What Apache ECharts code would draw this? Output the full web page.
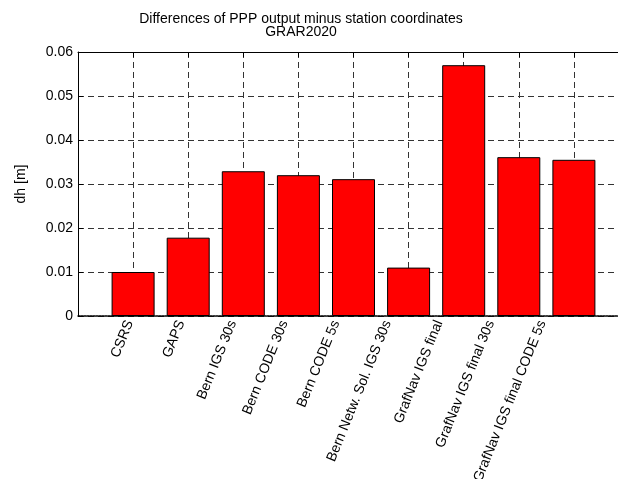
<!DOCTYPE html>
<html>
<head>
<meta charset="utf-8">
<script src="https://cdn.jsdelivr.net/npm/echarts@6/dist/echarts.min.js"></script>
<style>
html,body{margin:0;padding:0;background:#fff;}
#chart{width:618px;height:479px;}
</style>
</head>
<body>
<div id="chart"></div>
<script>
var titleLines = ['Differences of PPP output minus station coordinates', 'GRAR2020'];
var yAxisName = 'dh [m]';
var categories = ['CSRS', 'GAPS', 'Bern IGS 30s', 'Bern CODE 30s', 'Bern CODE 5s', 'Bern Netw. Sol. IGS 30s', 'GrafNav IGS final', 'GrafNav IGS final 30s', 'GrafNav IGS final CODE 5s'];
var dhValues = [0.0100, 0.0178, 0.0329, 0.0320, 0.0311, 0.0110, 0.0570, 0.0361, 0.0355];
var yTicks = [0, 0.01, 0.02, 0.03, 0.04, 0.05, 0.06];

var FONT = '"Liberation Sans", Arial, Helvetica, sans-serif';
var chart = echarts.init(document.getElementById('chart'), null, {renderer: 'canvas'});

var barData = dhValues.map(function (v, i) { return [i + 1, v]; });
var dashed = {color: '#333', width: 1, type: [6, 4]};
var xMax = categories.length + 1;
// the reference's rotated tick labels drift left of their bars (label spacing narrower than bar spacing)
var labelAxisMax = 10.68;

chart.setOption({
  animation: false,
  backgroundColor: '#fff',
  title: {
    text: titleLines.join('\n'),
    left: 296,
    top: 8,
    textAlign: 'center',
    textStyle: {fontFamily: FONT, fontSize: 14, fontWeight: 'normal', color: '#000', lineHeight: 13}
  },
  grid: {left: 78, top: 52, width: 551, height: 264, containLabel: false, outerBoundsMode: 'none'},
  xAxis: [{
    type: 'value', position: 'bottom', min: 0, max: xMax, interval: 1,
    axisLine: {show: true, onZero: false, lineStyle: {color: '#000', width: 1.5, type: [2, 1]}},
    axisTick: {show: true, inside: true, length: 5, lineStyle: {color: '#000'}},
    splitLine: {show: true, lineStyle: dashed},
    axisLabel: {show: false}
  }, {
    type: 'value', position: 'top', min: 0, max: xMax, interval: 1,
    axisLine: {show: true, onZero: false, lineStyle: {color: '#000', width: 1}},
    axisTick: {show: true, inside: true, length: 5, lineStyle: {color: '#000'}},
    splitLine: {show: false},
    axisLabel: {show: false}
  }, {
    type: 'value', position: 'bottom', min: 0, max: labelAxisMax, interval: 1,
    axisLine: {show: false}, axisTick: {show: false}, splitLine: {show: false},
    axisLabel: {
      rotate: 68, margin: 5, fontFamily: FONT, fontSize: 14, color: '#000',
      showMinLabel: true, showMaxLabel: false, hideOverlap: false,
      formatter: function (v) { return (v === Math.round(v) && categories[v - 1]) || ''; }
    }
  }],
  yAxis: {
    type: 'value', min: yTicks[0], max: yTicks[yTicks.length - 1], interval: 0.01,
    name: yAxisName, nameLocation: 'middle', nameGap: 50,
    nameTextStyle: {fontFamily: FONT, fontSize: 14, color: '#000'},
    axisLine: {show: true, onZero: false, lineStyle: {color: '#000', width: 1}},
    axisTick: {show: true, inside: true, length: 5, lineStyle: {color: '#000'}},
    splitLine: {show: true, lineStyle: dashed},
    axisLabel: {
      margin: 5, fontFamily: FONT, fontSize: 14, color: '#000',
      formatter: function (v) { return String(+v.toFixed(2)); }
    }
  },
  series: [{
    type: 'bar',
    xAxisIndex: 0,
    data: barData,
    barWidth: 43,
    itemStyle: {color: '#ff0000', borderColor: '#000', borderWidth: 1},
    z: 3
  }]
});
</script>
</body>
</html>
